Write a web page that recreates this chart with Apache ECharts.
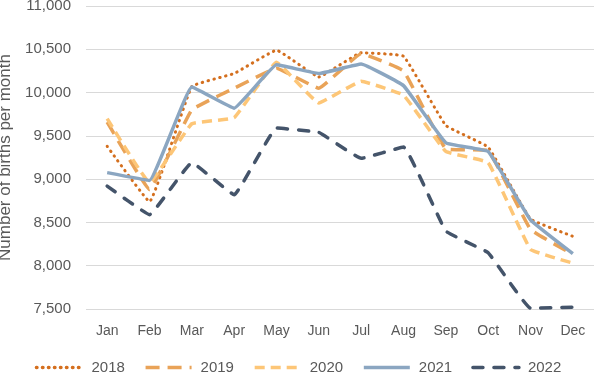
<!DOCTYPE html>
<html><head><meta charset="utf-8">
<script src="https://cdn.jsdelivr.net/npm/echarts@6/dist/echarts.min.js"></script>
<style>html,body{margin:0;padding:0;background:#fff}#c{width:596px;height:374px}</style>
</head><body><div id="c"></div>
<script>
var months = ['Jan','Feb','Mar','Apr','May','Jun','Jul','Aug','Sep','Oct','Nov','Dec'];
var s2018 = [9380, 8740, 10070, 10220, 10490, 10180, 10460, 10420, 9620, 9370, 8540, 8340];
var s2019 = [9660, 8880, 9800, 10050, 10280, 10050, 10450, 10250, 9350, 9330, 8420, 8130];
var s2020 = [9700, 8960, 9640, 9710, 10350, 9880, 10130, 9970, 9320, 9190, 8190, 8030];
var s2021 = [9075, 8985, 10065, 9820, 10320, 10220, 10330, 10080, 9420, 9320, 8530, 8140];
var s2022 = [8920, 8590, 9190, 8820, 9590, 9540, 9240, 9370, 8400, 8150, 7510, 7520];
var yTicks = {min: 7500, max: 11000, interval: 500};

var chart = echarts.init(document.getElementById('c'));
function mk(name, data, color, type, width, cap){
  return {name: name, type: 'line', data: data, symbol: 'none', smooth: 0.08,
    lineStyle: {color: color, width: width, type: type, cap: cap || 'butt'},
    itemStyle: {color: color}};
}
chart.setOption({
  animation: false,
  grid: {left: 86, right: 2, top: 6, bottom: 65, containLabel: false, outerBoundsMode: 'none'},
  xAxis: {type: 'category', data: months, boundaryGap: true,
    axisLine: {show: false}, axisTick: {show: false},
    axisLabel: {color: '#595959', fontSize: 14, fontFamily: 'Liberation Sans', margin: 15}},
  yAxis: {type: 'value', min: yTicks.min, max: yTicks.max, interval: yTicks.interval,
    name: 'Number of births per month', nameLocation: 'middle', nameGap: 56,
    nameTextStyle: {color: '#595959', fontSize: 17, fontFamily: 'Liberation Sans'},
    axisLabel: {color: '#595959', fontSize: 15, fontFamily: 'Liberation Sans', margin: 15,
      formatter: function(v){ return v.toLocaleString('en-US'); }},
    splitLine: {lineStyle: {color: '#d9d9d9', width: 1}}},
  legend: {top: 360, left: 'center', padding: 0, itemWidth: 46, itemHeight: 10, itemGap: 19,
    itemStyle: {opacity: 0}, lineStyle: {width: 3.5},
    textStyle: {color: '#595959', fontSize: 15, fontFamily: 'Liberation Sans', padding: [0, 0, 0, 4]},
    data: ['2018','2019','2020','2021','2022']},
  series: [
    mk('2018', s2018, '#D46F1E', [0.5, 5.5], 3, 'round'),
    mk('2019', s2019, '#E9A358', [14, 8], 3.5),
    mk('2020', s2020, '#FDC677', [10, 6], 3.5),
    mk('2021', s2021, '#8BA6C1', 'solid', 3.5),
    mk('2022', s2022, '#44546A', [10, 11], 3.5, 'round')
  ]
});
</script></body></html>
